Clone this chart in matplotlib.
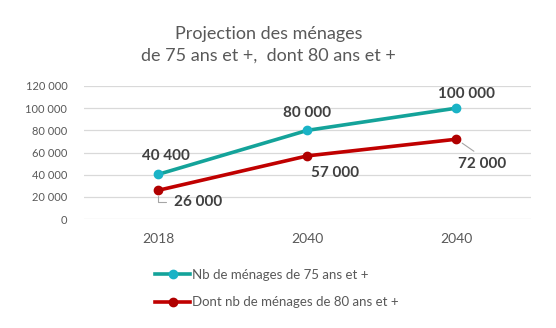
import matplotlib
matplotlib.use("Agg")
import matplotlib.pyplot as plt

plt.rcParams["font.family"] = ["Lato", "DejaVu Sans"]

categories = ["2018", "2040", "2040"]
menages_75 = [40400, 80000, 100000]
menages_80 = [26000, 57000, 72000]
yticks = [0, 20000, 40000, 60000, 80000, 100000, 120000]


def fmt(v):
    return f"{v:,}".replace(",", " ")


fig = plt.figure(figsize=(5.56, 3.28), dpi=100)
ax = fig.add_axes([0.151, 0.332, 0.804, 0.406])

x = list(range(len(categories)))
teal, red = "#14A39A", "#C00000"
l1, = ax.plot(x, menages_75, color=teal, lw=2.6, marker="o", ms=6,
              mfc="#1AB3C6", mec="#1AB3C6", label="Nb de ménages de 75 ans et +", zorder=3)
l2, = ax.plot(x, menages_80, color=red, lw=2.6, marker="o", ms=6,
              mfc="#B00000", mec="#B00000", label="Dont nb de ménages de 80 ans et +", zorder=3)

ax.set_xlim(-0.5, 2.5)
ax.set_ylim(0, 120000)
ax.set_yticks(yticks)
ax.set_yticklabels([fmt(v) for v in yticks])
ax.set_xticks(x)
ax.set_xticklabels(categories)
ax.tick_params(axis="both", length=0, colors="#595959")
ax.tick_params(axis="y", labelsize=8, pad=12)
ax.tick_params(axis="x", labelsize=10, pad=10)
ax.grid(axis="y", color="#D9D9D9", lw=0.9)
ax.set_axisbelow(True)
for s in ax.spines.values():
    s.set_visible(False)

lab = dict(fontsize=11, fontweight="bold", color="#404040", ha="center", va="center",
           textcoords="offset pixels")
leader = dict(arrowstyle="-", color="#A6A6A6", lw=0.8)

# label offsets in pixels
off_75 = [(7, 18), (0, 17), (10, 14)]
for xi, v, o in zip(x, menages_75, off_75):
    ax.annotate(fmt(v), (xi, v), xytext=o, **lab)

ax.annotate(fmt(menages_80[0]), (x[0], menages_80[0]), xytext=(40, -12),
            arrowprops=dict(connectionstyle="angle,angleA=0,angleB=90,rad=0",
                            relpos=(0, 0.5), shrinkA=4, shrinkB=4, **leader), **lab)
ax.annotate(fmt(menages_80[1]), (x[1], menages_80[1]), xytext=(28, -17), **lab)
ax.annotate(fmt(menages_80[2]), (x[2], menages_80[2]), xytext=(26, -25),
            arrowprops=dict(relpos=(0.5, 1.0), shrinkA=4, shrinkB=5, **leader), **lab)

fig.text(0.483, 0.864, "Projection des ménages\nde 75 ans et +,  dont 80 ans et +",
         ha="center", va="center", fontsize=13, color="#595959", linespacing=1.45)

fig.legend(handles=[l1, l2], loc="upper left", bbox_to_anchor=(0.27, 0.197),
           frameon=False, fontsize=9.5, labelcolor="#595959", handlelength=2.6,
           handletextpad=0.2, labelspacing=1.2, borderaxespad=0)

fig.savefig("out.png", dpi=100)
